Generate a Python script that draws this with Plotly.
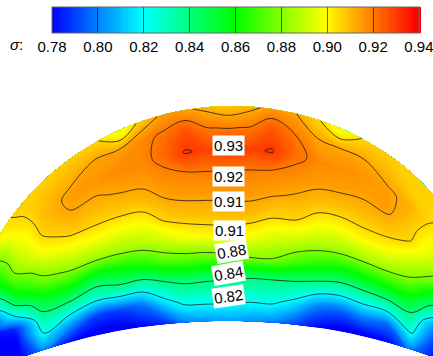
import numpy as np
import plotly.graph_objects as go

# ---------------- data ----------------
# horizontal stations (pixel-like x positions across the sector)
COLS = [-12, 15, 43, 70, 97, 120, 143, 165, 185, 207, 228, 250, 272, 295, 318, 340, 363, 388, 411, 445]
# radial fraction from inner wall (0) to outer wall (1)
FRAC = [0.0, 0.1, 0.2, 0.3, 0.4, 0.5, 0.6, 0.7, 0.8, 0.9, 1.0]

# sigma values, one list per station (inner -> outer)
SIGMA_BY_COL = [
    [0.775, 0.776, 0.777, 0.778, 0.787, 0.8134, 0.8365, 0.8525, 0.8676, 0.8826, 0.899],
    [0.775, 0.776, 0.7846, 0.8214, 0.8484, 0.8672, 0.8822, 0.8892, 0.8962, 0.9032, 0.906],
    [0.800, 0.8214, 0.8349, 0.8531, 0.8743, 0.8884, 0.900, 0.9066, 0.9094, 0.9087, 0.9065],
    [0.782, 0.8055, 0.8346, 0.859, 0.8824, 0.8962, 0.9071, 0.9126, 0.9146, 0.9109, 0.907],
    [0.776, 0.7898, 0.8278, 0.8515, 0.8838, 0.8985, 0.9076, 0.9123, 0.9157, 0.9141, 0.9055],
    [0.776, 0.7896, 0.8326, 0.8575, 0.8845, 0.8981, 0.908, 0.9138, 0.918, 0.9138, 0.895],
    [0.780, 0.797, 0.830, 0.8628, 0.8867, 0.8992, 0.9092, 0.9147, 0.918, 0.9183, 0.909],
    [0.785, 0.8145, 0.8393, 0.8718, 0.8921, 0.9063, 0.913, 0.9176, 0.9228, 0.9217, 0.915],
    [0.800, 0.824, 0.8434, 0.8744, 0.8975, 0.9089, 0.9145, 0.9189, 0.9306, 0.9262, 0.914],
    [0.803, 0.8241, 0.8425, 0.8743, 0.9003, 0.9095, 0.9149, 0.920, 0.9288, 0.9204, 0.911],
    [0.805, 0.8237, 0.8415, 0.8775, 0.9008, 0.9098, 0.9152, 0.9199, 0.9312, 0.9195, 0.908],
    [0.803, 0.8221, 0.8398, 0.8809, 0.8989, 0.9097, 0.9152, 0.9195, 0.9288, 0.9205, 0.911],
    [0.800, 0.823, 0.840, 0.8802, 0.8938, 0.9064, 0.9137, 0.9183, 0.9306, 0.9262, 0.915],
    [0.790, 0.815, 0.8384, 0.8715, 0.8916, 0.9059, 0.9121, 0.9169, 0.9223, 0.920, 0.9135],
    [0.780, 0.799, 0.8326, 0.8635, 0.8867, 0.900, 0.9094, 0.9148, 0.9178, 0.9137, 0.906],
    [0.776, 0.7946, 0.8279, 0.857, 0.8848, 0.8986, 0.9085, 0.914, 0.9168, 0.9131, 0.896],
    [0.776, 0.8008, 0.8307, 0.8585, 0.8855, 0.9011, 0.9086, 0.9132, 0.9159, 0.9132, 0.9055],
    [0.780, 0.7982, 0.8324, 0.8605, 0.8851, 0.8999, 0.9083, 0.9140, 0.9142, 0.9104, 0.907],
    [0.800, 0.8228, 0.8382, 0.8583, 0.8792, 0.892, 0.9045, 0.9081, 0.911, 0.9068, 0.9065],
    [0.776, 0.7768, 0.7906, 0.8246, 0.8499, 0.8746, 0.8857, 0.893, 0.9003, 0.9055, 0.906],
]

LINE_LEVELS = [0.82, 0.84, 0.88, 0.905, 0.913, 0.92, 0.93]

CB_TICKS = [0.78, 0.80, 0.82, 0.84, 0.86, 0.88, 0.90, 0.92, 0.94]

LABEL_TEXT = ["0.93", "0.92", "0.91", "0.91", "0.88", "0.84", "0.82"]
LABEL_X = [228, 228, 228, 229, 231, 228, 228]
LABEL_Y = [145, 176, 201, 230, 251, 273, 296]
LABEL_ANGLE = [0, 0, 0, 0, -10, -10, -8]

# ---------------- geometry / style ----------------
W, H = 433, 356
OUT_CX, OUT_CY, OUT_R = 232.0, 381.0, 275.0
IN_CX, IN_CY, IN_R = 228.0, 921.0, 600.0
FONT = "Liberation Sans, Arial, sans-serif"
Z_LO, Z_HI = CB_TICKS[0], CB_TICKS[-1]


def y_outer(x):
    return OUT_CY - np.sqrt(OUT_R ** 2 - (x - OUT_CX) ** 2)


def y_inner(x):
    return IN_CY - np.sqrt(IN_R ** 2 - (x - IN_CX) ** 2)


cols = np.array(COLS, dtype=float)
frac = np.array(FRAC, dtype=float)
yin = y_inner(cols)
yout = y_outer(cols)
X = np.tile(cols, (len(frac), 1))
Y = yin[None, :] - frac[:, None] * (yin - yout)[None, :]
Z = np.array(SIGMA_BY_COL).T  # rows: FRAC, cols: COLS

colorscale = [
    [0.0, "rgb(0,0,255)"],
    [0.25, "rgb(0,255,255)"],
    [0.5, "rgb(0,255,0)"],
    [0.75, "rgb(255,255,0)"],
    [1.0, "rgb(255,0,0)"],
]

hidden_axis = dict(
    showgrid=False, showline=False, showticklabels="none", startline=False,
    endline=False, minorgridcount=0, gridcolor="rgba(0,0,0,0)",
    linecolor="rgba(0,0,0,0)",
)

fig = go.Figure()
fig.add_trace(go.Carpet(
    carpet="c1", a=COLS, b=FRAC, x=X.tolist(), y=Y.tolist(),
    aaxis=hidden_axis, baxis=hidden_axis,
))

# keep the end tick just inside the bar so its label is drawn
tick_pos = [min(max(v, Z_LO + 1e-5), Z_HI - 5e-5) for v in CB_TICKS]

bar_left, bar_right, bar_top = 52, 419, 7
fig.add_trace(go.Contourcarpet(
    carpet="c1", a=COLS, b=FRAC, z=Z.tolist(),
    autocontour=False,
    contours=dict(start=Z_LO, end=Z_HI, size=0.001, coloring="fill", showlines=False),
    line=dict(width=0),
    colorscale=colorscale, zauto=False, zmin=Z_LO, zmax=Z_HI,
    colorbar=dict(
        orientation="h",
        x=(bar_left + bar_right) / 2 / W, xanchor="center",
        y=1 - bar_top / H, yanchor="top",
        len=(bar_right - bar_left) / W, lenmode="fraction",
        thickness=26, thicknessmode="pixels",
        outlinewidth=1, outlinecolor="#666",
        tickmode="array", tickvals=tick_pos,
        ticktext=[f"{v:.2f}" for v in CB_TICKS],
        ticklabeloverflow="allow",
        ticks="inside", ticklen=26, tickwidth=1, tickcolor="rgba(0,0,0,0.55)",
        tickfont=dict(size=15, color="black", family=FONT),
        xpad=0, ypad=0,
    ),
))

for lev in LINE_LEVELS:
    fig.add_trace(go.Contourcarpet(
        carpet="c1", a=COLS, b=FRAC, z=Z.tolist(),
        autocontour=False,
        contours=dict(start=lev, end=lev, size=0.001, coloring="none", showlabels=False),
        line=dict(color="rgba(20,20,20,0.75)", width=1),
        showscale=False,
    ))

annotations = []
for t, x, y, ang in zip(LABEL_TEXT, LABEL_X, LABEL_Y, LABEL_ANGLE):
    annotations.append(dict(
        x=x, y=y, xref="x", yref="y", text=t, showarrow=False,
        textangle=ang, bgcolor="white", borderpad=1,
        font=dict(size=15, color="black", family=FONT),
    ))
annotations.append(dict(
    x=16, y=44, xref="x", yref="y", text="<i>σ</i>:", showarrow=False,
    font=dict(size=15, color="black", family=FONT),
))

fig.update_layout(
    width=W, height=H,
    margin=dict(l=0, r=0, t=0, b=0, autoexpand=False),
    paper_bgcolor="white", plot_bgcolor="white",
    xaxis=dict(range=[0, W], visible=False, fixedrange=True),
    yaxis=dict(range=[H, 0], visible=False, fixedrange=True),
    showlegend=False,
    annotations=annotations,
    font=dict(family=FONT),
)

fig.write_html(
    "out.html",
    config={"displayModeBar": False},
    post_script="document.body.style.margin='0';document.body.style.overflow='hidden';",
)
